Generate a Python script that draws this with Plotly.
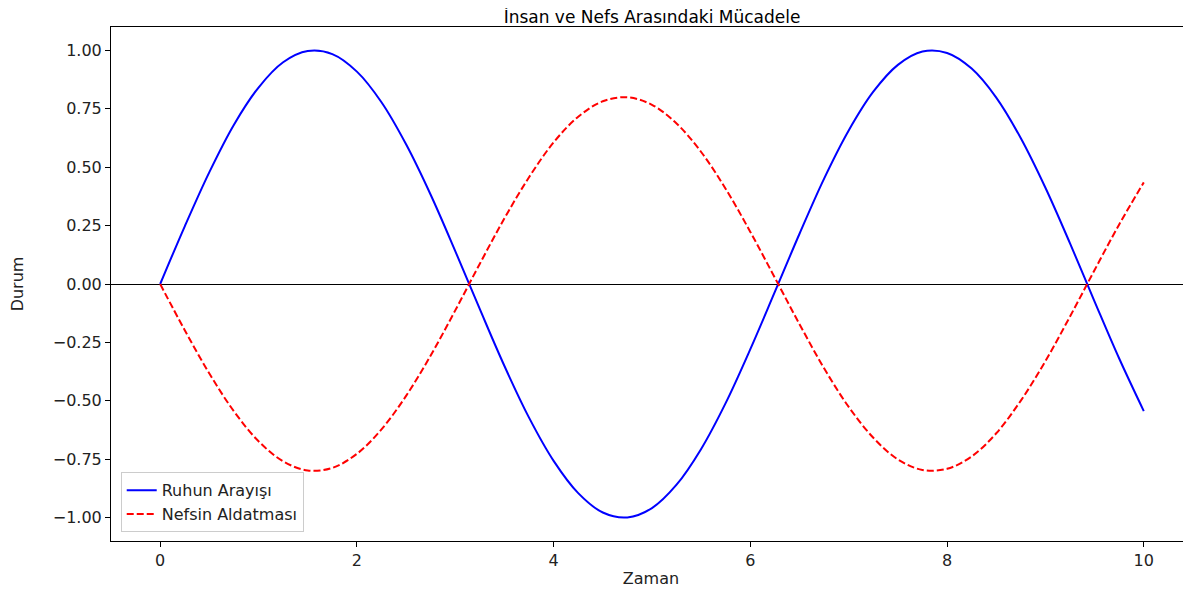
import plotly.graph_objects as go

# Zaman ekseni ve
zaman = [0, 0.25, 0.5, 0.75, 1.0, 1.25, 1.5, 1.75, 2.0, 2.25, 2.5, 2.75, 3.0, 3.25,
         3.5, 3.75, 4.0, 4.25, 4.5, 4.75, 5.0, 5.25, 5.5, 5.75, 6.0, 6.25, 6.5,
         6.75, 7.0, 7.25, 7.5, 7.75, 8.0, 8.25, 8.5, 8.75, 9.0, 9.25, 9.5, 9.75, 10.0]

ruhun_arayisi = [0.000, 0.247, 0.479, 0.682, 0.841, 0.949, 0.997, 0.984, 0.909,
                 0.778, 0.598, 0.382, 0.141, -0.108, -0.351, -0.572, -0.757,
                 -0.895, -0.978, -0.999, -0.959, -0.859, -0.706, -0.509, -0.279,
                 -0.033, 0.215, 0.451, 0.657, 0.823, 0.938, 0.995, 0.989, 0.922,
                 0.798, 0.624, 0.412, 0.174, -0.075, -0.319, -0.544]

nefsin_aldatmasi = [0.000, -0.198, -0.383, -0.545, -0.673, -0.759, -0.798, -0.787,
                    -0.727, -0.622, -0.479, -0.306, -0.113, 0.087, 0.281, 0.457,
                    0.606, 0.716, 0.782, 0.799, 0.767, 0.687, 0.565, 0.407, 0.223,
                    0.026, -0.172, -0.361, -0.526, -0.658, -0.751, -0.796, -0.791,
                    -0.738, -0.639, -0.499, -0.330, -0.139, 0.060, 0.255, 0.435]

x_ticks = [0, 2, 4, 6, 8, 10]
y_ticks = [-1.0, -0.75, -0.5, -0.25, 0.0, 0.25, 0.5, 0.75, 1.0]

fig = go.Figure()

fig.add_trace(go.Scatter(
    x=zaman, y=ruhun_arayisi, mode="lines", name="Ruhun Arayışı",
    line=dict(color="#0000ff", width=2, shape="spline")
))
fig.add_trace(go.Scatter(
    x=zaman, y=nefsin_aldatmasi, mode="lines", name="Nefsin Aldatması",
    line=dict(color="#ff0000", width=2, dash="7px,3px", shape="spline")
))

# sayfa gövdesi 8px kaydırıyor; figür pencereye sığsın diye biraz küçük
fig.update_layout(
    width=1183, height=580,
    paper_bgcolor="white", plot_bgcolor="white",
    font=dict(family="DejaVu Sans", size=16, color="#222222"),
    margin=dict(l=103, r=0, t=19, b=47),
    title=dict(text="İnsan ve Nefs Arasındaki Mücadele", x=0.5444, xanchor="center",
               y=1 - 9 / 580, yanchor="middle", font=dict(size=17, color="black")),
    legend=dict(x=0.009, y=0.017, xanchor="left", yanchor="bottom",
                bgcolor="rgba(255,255,255,0.8)", bordercolor="#cccccc", borderwidth=1,
                font=dict(size=16, color="#222222"), tracegroupgap=0),
)

fig.update_xaxes(
    range=[-0.5, 10.48], tickvals=x_ticks, ticktext=[str(t) for t in x_ticks],
    showgrid=False, zeroline=False, showline=True, linecolor="black", linewidth=1,
    mirror=True, ticks="outside", ticklen=5, tickcolor="black",
    title=dict(text="Zaman", standoff=4, font=dict(size=16)),
)
fig.update_yaxes(
    range=[-1.1, 1.1], tickvals=y_ticks, tickformat=".2f",
    showgrid=False, zeroline=True, zerolinecolor="black", zerolinewidth=1,
    showline=True, linecolor="black", linewidth=1, mirror=False,
    ticks="outside", ticklen=5, tickcolor="black",
    title=dict(text="Durum", standoff=25, font=dict(size=16)),
)

fig.write_html("out.html")
